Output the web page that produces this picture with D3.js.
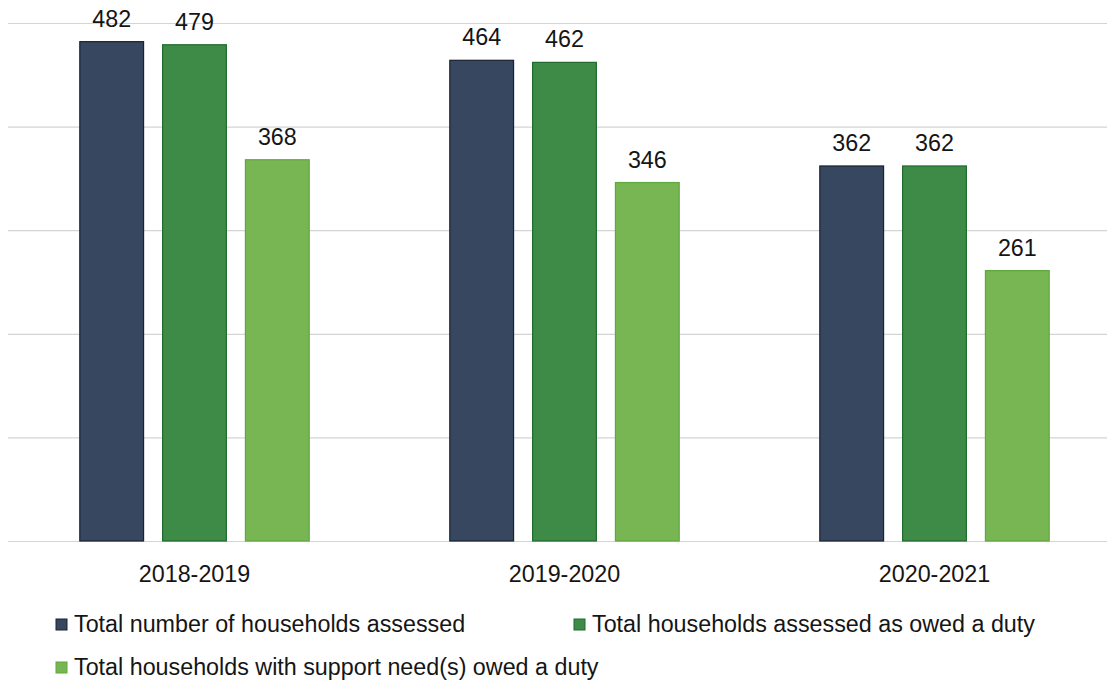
<!DOCTYPE html>
<html>
<head>
<meta charset="utf-8">
<script src="https://cdn.jsdelivr.net/npm/d3@7"></script>
<style>
  html, body { margin: 0; padding: 0; background: #fff; }
  svg { display: block; font-family: "Liberation Sans", Arial, sans-serif; }
</style>
</head>
<body>
<svg id="chart"></svg>
<script>
var years = ["2018-2019", "2019-2020", "2020-2021"];
var seriesNames = [
    "Total number of households assessed",
    "Total households assessed as owed a duty",
    "Total households with support need(s) owed a duty"
];
var assessed = [482, 464, 362];
var owedDuty = [479, 462, 362];
var supportNeeds = [368, 346, 261];
var yTicks = [0, 100, 200, 300, 400, 500];

var width = 1107;
var height = 680;
var fontSize = "23.3px";
var fills = ["#37475f", "#3d8b47", "#78b553"];
var strokes = ["#1b2233", "#1f6b2c", "#5ea83c"];

var Chart = (function(){
    var svg, x, xInner, y;
    var values = [assessed, owedDuty, supportNeeds];

    function setupScales(){
        x = d3.scaleBand()
            .domain(years)
            .range([9.5, 1119.5])
            .paddingInner(0.38)
            .paddingOuter(0.19);

        xInner = d3.scaleBand()
            .domain(d3.range(seriesNames.length))
            .range([0, x.bandwidth()])
            .paddingInner(0.23)
            .paddingOuter(0);

        y = d3.scaleLinear()
            .domain([0, 500])
            .range([541, 23]);
    }

    function drawGrid(){
        svg.append("g")
            .selectAll("line")
            .data(yTicks)
            .enter()
            .append("line")
                .attr("x1", 8)
                .attr("x2", width)
                .attr("y1", d => y(d) + 0.5)
                .attr("y2", d => y(d) + 0.5)
                .attr("stroke", "#d4d4d4")
                .attr("stroke-width", 1.2);
    }

    function drawBars(){
        var data = [];
        years.forEach((yr, i) => {
            values.forEach((arr, s) => {
                data.push({year: yr, s: s, v: arr[i]});
            });
        });

        var groups = svg.append("g");

        groups.selectAll("rect")
            .data(data)
            .enter()
            .append("rect")
                .attr("x", d => x(d.year) + xInner(d.s))
                .attr("y", d => y(d.v))
                .attr("width", xInner.bandwidth())
                .attr("height", d => y(0) - y(d.v))
                .attr("fill", d => fills[d.s])
                .attr("stroke", d => strokes[d.s])
                .attr("stroke-width", 1.2);

        groups.selectAll("text")
            .data(data)
            .enter()
            .append("text")
                .attr("x", d => x(d.year) + xInner(d.s) + xInner.bandwidth() / 2)
                .attr("y", d => y(d.v) - 15)
                .attr("text-anchor", "middle")
                .attr("font-size", fontSize)
                .attr("fill", "#151515")
                .text(d => d.v);
    }

    function drawAxis(){
        var axis = d3.axisBottom(x).tickSize(0).tickPadding(0);
        var g = svg.append("g")
            .attr("transform", "translate(0," + y(0) + ")")
            .call(axis);
        g.select(".domain").remove();
        g.selectAll("text")
            .attr("dy", 0)
            .attr("y", 41)
            .attr("font-size", fontSize)
            .attr("font-family", "Liberation Sans, Arial, sans-serif")
            .attr("fill", "#151515");
    }

    function drawLegend(){
        var items = [
            {s: 0, x: 56, y: 632},
            {s: 1, x: 574, y: 632},
            {s: 2, x: 56, y: 675}
        ];
        var lg = svg.append("g")
            .selectAll("g")
            .data(items)
            .enter()
            .append("g")
                .attr("transform", d => "translate(" + d.x + "," + d.y + ")");

        lg.append("rect")
            .attr("x", 0)
            .attr("y", -13)
            .attr("width", 11)
            .attr("height", 11)
            .attr("fill", d => fills[d.s])
            .attr("stroke", d => strokes[d.s])
            .attr("stroke-width", 1);

        lg.append("text")
            .attr("x", 18)
            .attr("y", 0)
            .attr("font-size", fontSize)
            .attr("fill", "#151515")
            .text(d => seriesNames[d.s]);
    }

    return {
        init: function(){
            svg = d3.select("#chart")
                .attr("width", width)
                .attr("height", height);
            setupScales();
            drawGrid();
            drawBars();
            drawAxis();
            drawLegend();
        }
    };
})();

Chart.init();
</script>
</body>
</html>
